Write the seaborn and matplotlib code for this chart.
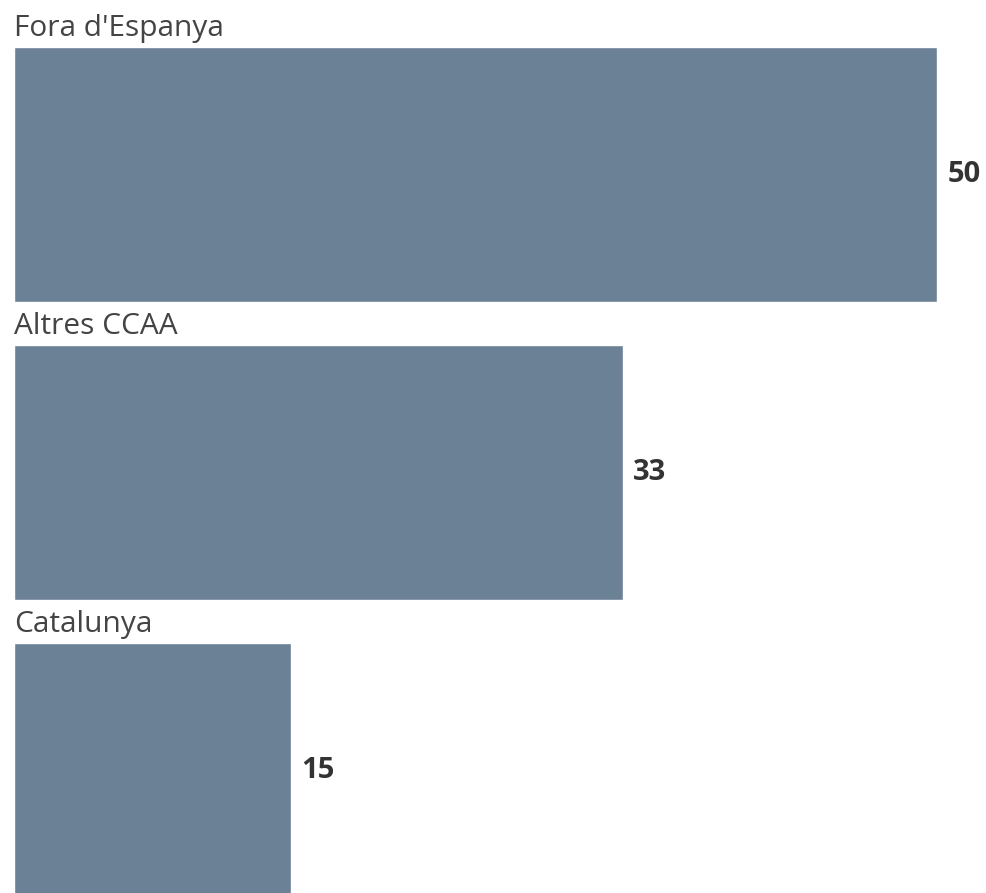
import matplotlib
matplotlib.use("Agg")
import matplotlib.pyplot as plt
import pandas as pd
import seaborn as sns

categories = ["Fora d'Espanya", "Altres CCAA", "Catalunya"]
values = [50, 33, 15]

df = pd.DataFrame({"Origen": categories, "Valor": values})

sns.set_style("white")
plt.rcParams['font.family'] = ['Open Sans', 'DejaVu Sans']

fig = plt.figure(figsize=(9.87, 8.93), dpi=100)
ax = fig.add_axes([0, 0, 1, 1])

sns.barplot(data=df, x="Valor", y="Origen", orient="h", color="#6b8196",
            saturation=1, width=0.856, ax=ax)

ax.set_xlim(-0.758, 52.7)
ax.set_ylim(2.411, -0.586)
ax.axis("off")

for i, (cat, val) in enumerate(zip(categories, values)):
    ax.text(0, i - 0.465, cat, ha="left", va="baseline",
            fontsize=21.5, color="#444444")
    ax.text(val + 0.55, i, str(val), ha="left", va="center",
            fontsize=21, fontweight="bold", color="#333333")

plt.savefig("out.png", dpi=100)
